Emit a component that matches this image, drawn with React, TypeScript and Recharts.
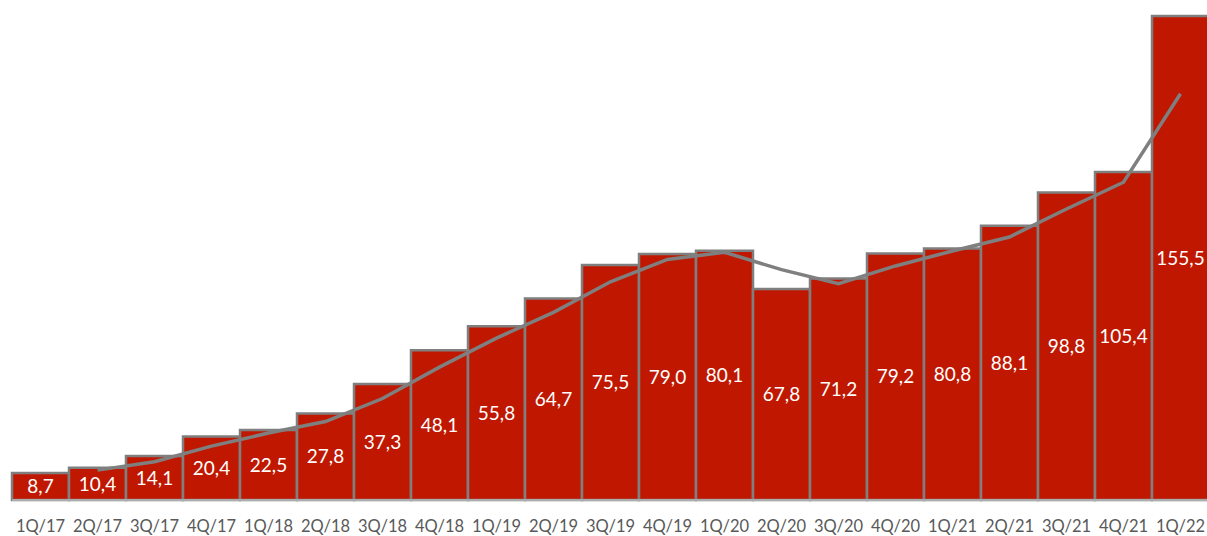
import { ComposedChart, Bar, Line, XAxis, YAxis, LabelList } from "recharts";

const quarters = [
  "1Q/17", "2Q/17", "3Q/17", "4Q/17",
  "1Q/18", "2Q/18", "3Q/18", "4Q/18",
  "1Q/19", "2Q/19", "3Q/19", "4Q/19",
  "1Q/20", "2Q/20", "3Q/20", "4Q/20",
  "1Q/21", "2Q/21", "3Q/21", "4Q/21",
  "1Q/22",
];

const revenue = [
  8.7, 10.4, 14.1, 20.4, 22.5, 27.8, 37.3, 48.1, 55.8, 64.7, 75.5, 79.0,
  80.1, 67.8, 71.2, 79.2, 80.8, 88.1, 98.8, 105.4, 155.5,
];

// trend line, starts at the second quarter
const trend = [
  null, 9.6, 12.3, 17.3, 21.5, 25.2, 32.6, 42.7, 52.0, 60.3, 70.1, 77.3,
  79.6, 74.0, 69.5, 75.2, 80.0, 84.5, 93.5, 102.1, 130.5,
];

const RED = "#c01800";
const GREY = "#7f7f7f";

const data = quarters.map((q, i) => ({
  quarter: q,
  revenue: revenue[i],
  trend: trend[i],
}));

const fmt = (v: number) => v.toFixed(1).replace(".", ",");

export default function App() {
  return (
    <div style={{ position: "absolute", left: 0, top: 0, width: 1207, height: 536, overflow: "hidden", background: "#fff" }}>
      <ComposedChart
        width={1209}
        height={536}
        data={data}
        margin={{ top: 16, right: 0, bottom: 6, left: 12 }}
        barCategoryGap={0}
        barGap={0}
      >
        <XAxis
          dataKey="quarter"
          axisLine={{ stroke: "#d9d9d9", strokeWidth: 1 }}
          tickLine={false}
          tickSize={0}
          tickMargin={20}
          height={30}
          interval={0}
          tick={{ fill: "#595959", fontSize: 16.5, fontFamily: "Lato" }}
        />
        <YAxis hide domain={[0, 155.5]} />
        <Bar
          dataKey="revenue"
          fill={RED}
          stroke={GREY}
          strokeWidth={2.5}
          isAnimationActive={false}
        >
          <LabelList
            dataKey="revenue"
            position="center"
            formatter={(v: any) => fmt(Number(v))}
            fill="#ffffff"
            fontSize={19}
            fontFamily="Lato"
          />
        </Bar>
        <Line
          dataKey="trend"
          type="linear"
          stroke={GREY}
          strokeWidth={3.5}
          dot={false}
          activeDot={false}
          connectNulls={false}
          isAnimationActive={false}
        />
      </ComposedChart>
    </div>
  );
}
